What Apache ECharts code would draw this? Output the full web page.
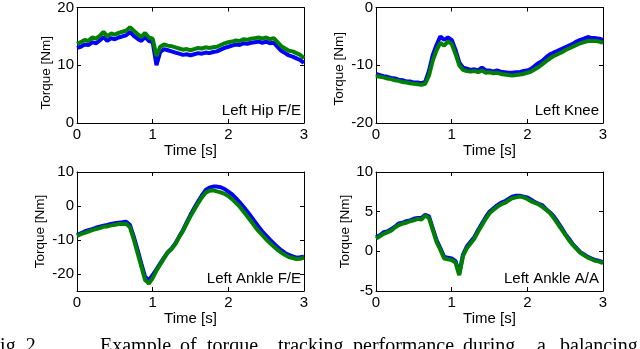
<!DOCTYPE html>
<html lang="en">
<head>
<meta charset="utf-8" />
<title>Torque tracking</title>
<script src="https://cdn.jsdelivr.net/npm/echarts@6/dist/echarts.min.js"></script>
</head>
<body style="margin:0;background:#fff">
<div id="chart" style="width:640px;height:349px"></div>
<script>
// time samples [s]
const times = [0.00,0.05,0.10,0.15,0.20,0.25,0.30,0.35,0.40,0.45,0.50,0.55,0.60,0.65,0.70,0.75,0.80,0.85,0.90,0.95,
  1.00,1.05,1.10,1.15,1.20,1.25,1.30,1.35,1.40,1.45,1.50,1.55,1.60,1.65,1.70,1.75,1.80,1.85,1.90,1.95,
  2.00,2.05,2.10,2.15,2.20,2.25,2.30,2.35,2.40,2.45,2.50,2.55,2.60,2.65,2.70,2.75,2.80,2.85,2.90,2.95,3.00]

// Left Hip F/E
const hipBlue = [13.0,13.2,13.6,13.5,14.0,13.8,14.3,14.9,14.2,14.7,14.5,14.8,15.0,15.2,15.8,15.1,14.6,14.2,14.9,14.2,
  14.0,10.0,12.3,12.8,12.6,12.4,12.2,12.0,11.8,11.9,11.7,11.9,12.1,12.0,12.2,12.1,12.3,12.4,12.7,13.0,
  13.2,13.4,13.6,13.5,13.8,13.7,13.9,14.0,14.1,13.9,14.1,13.8,13.9,13.2,12.5,12.1,11.7,11.5,11.2,10.9,10.4]
const hipGreen = [13.7,14.0,14.4,14.2,14.8,14.6,15.1,15.8,15.0,15.5,15.3,15.6,15.8,16.0,16.6,16.0,15.4,14.9,15.6,14.8,
  14.6,11.6,13.2,13.6,13.4,13.3,13.1,12.9,12.7,12.8,12.6,12.8,13.0,12.9,13.1,13.0,13.1,13.2,13.5,13.8,
  14.0,14.1,14.3,14.2,14.5,14.4,14.6,14.7,14.8,14.6,14.8,14.5,14.7,14.0,13.3,12.9,12.5,12.4,12.1,11.8,11.2]

// Left Knee
const kneeBlue = [-11.5,-11.7,-11.9,-12.0,-12.2,-12.3,-12.5,-12.6,-12.8,-12.8,-13.0,-13.0,-13.1,-12.9,-11.0,-8.2,-6.5,-5.0,-5.6,-5.2,
  -5.6,-7.3,-9.5,-10.4,-10.6,-10.8,-10.7,-10.9,-10.4,-10.9,-10.9,-11.1,-10.9,-11.1,-11.2,-11.3,-11.3,-11.2,-11.2,-11.0,
  -10.9,-10.6,-10.1,-9.6,-9.2,-8.6,-8.1,-7.8,-7.5,-7.2,-6.9,-6.6,-6.3,-5.9,-5.6,-5.4,-5.1,-5.3,-5.3,-5.4,-5.6]
const kneeGreen = [-11.8,-12.0,-12.1,-12.3,-12.4,-12.6,-12.7,-12.9,-13.0,-13.1,-13.2,-13.3,-13.4,-13.2,-11.8,-9.2,-7.4,-6.1,-6.6,-5.9,
  -6.3,-8.0,-10.0,-10.8,-11.0,-11.1,-11.0,-11.2,-10.9,-11.3,-11.2,-11.4,-11.3,-11.5,-11.6,-11.7,-11.8,-11.7,-11.6,-11.5,
  -11.3,-11.1,-10.7,-10.3,-9.8,-9.3,-8.8,-8.4,-8.1,-7.8,-7.4,-7.1,-6.8,-6.5,-6.2,-6.0,-5.8,-5.8,-5.8,-5.9,-6.1]

// Left Ankle F/E
const ankleFEBlue = [-8.5,-8.0,-7.5,-7.1,-6.8,-6.4,-6.1,-5.8,-5.6,-5.3,-5.1,-4.9,-4.8,-4.6,-5.6,-9.0,-12.9,-16.9,-20.8,-21.8,
  -20.3,-18.6,-16.9,-15.2,-13.6,-12.5,-11.0,-9.0,-7.1,-4.8,-2.6,-0.6,1.3,3.1,4.7,5.4,5.7,5.7,5.5,5.0,
  4.2,3.4,2.3,1.1,-0.2,-1.6,-3.1,-4.6,-6.1,-7.5,-8.7,-9.9,-11.0,-12.1,-13.0,-13.8,-14.4,-14.8,-15.2,-15.1,-14.9]
const ankleFEGreen = [-8.8,-8.3,-7.9,-7.5,-7.1,-6.8,-6.5,-6.1,-6.0,-5.7,-5.5,-5.3,-5.3,-5.2,-6.3,-9.8,-13.8,-17.8,-21.8,-22.8,
  -21.2,-19.0,-17.2,-15.4,-13.6,-12.7,-11.2,-9.2,-7.4,-5.2,-3.0,-1.1,0.8,2.5,3.9,4.5,4.6,4.3,4.0,3.6,
  2.9,2.0,0.9,-0.2,-1.6,-3.0,-4.5,-6.0,-7.4,-8.6,-9.8,-10.9,-11.9,-12.9,-13.7,-14.4,-15.0,-15.3,-15.6,-15.5,-15.2]

// Left Ankle A/A
const ankleAABlue = [1.8,2.0,2.4,2.5,2.8,3.1,3.5,3.6,3.8,3.9,4.1,4.2,4.2,4.6,4.4,2.9,1.4,0.4,-0.7,-0.8,
  -0.9,-1.2,-2.8,-0.4,0.6,1.2,1.8,2.7,3.5,4.3,5.0,5.4,5.8,6.1,6.3,6.6,6.9,7.0,7.0,6.9,
  6.8,6.5,6.2,6.0,5.8,5.3,4.9,4.4,3.7,3.0,2.2,1.6,0.9,0.4,-0.1,-0.4,-0.7,-0.9,-1.1,-1.2,-1.4]
const ankleAAGreen = [1.6,1.9,2.2,2.4,2.6,3.0,3.3,3.5,3.6,3.8,3.9,4.1,4.0,4.5,4.2,2.7,1.2,0.2,-0.9,-1.0,
  -1.1,-1.4,-3.0,-0.6,0.4,1.0,1.6,2.5,3.3,4.1,4.8,5.2,5.6,5.9,6.1,6.4,6.7,6.8,6.9,6.8,
  6.6,6.3,6.1,5.9,5.6,5.2,4.8,4.2,3.5,2.8,2.1,1.4,0.8,0.3,-0.2,-0.5,-0.8,-1.0,-1.2,-1.3,-1.5]

const panels = [
  { title: 'Left Hip F/E', blue: hipBlue, green: hipGreen, min: 0, max: 20, interval: 10 },
  { title: 'Left Knee', blue: kneeBlue, green: kneeGreen, min: -20, max: 0, interval: 10 },
  { title: 'Left Ankle F/E', blue: ankleFEBlue, green: ankleFEGreen, min: -25, max: 10 },
  { title: 'Left Ankle A/A', blue: ankleAABlue, green: ankleAAGreen, min: -5, max: 10, interval: 5 },
]

const font = 'Liberation Sans, Arial, sans-serif'
const boxes = [
  { left: 77, top: 6, height: 117, nameGap: 23, pad: [0, 15, 0, 0] },
  { left: 376, top: 6, height: 117, nameGap: 30, pad: [0, 7, 0, 0] },
  { left: 77, top: 172, height: 119, nameGap: 30, pad: 0 },
  { left: 376, top: 172, height: 119, nameGap: 23, pad: 0 },
]

let grid = [], xAxis = [], yAxis = [], series = [], title = []
panels.forEach((p, i) => {
  let b = boxes[i]
  grid.push({ left: b.left, top: b.top, width: 227, height: b.height })
  let line = { show: true, onZero: false, lineStyle: { color: '#000', width: 1 } }
  let tick = { show: true, inside: true, length: 4, lineStyle: { color: '#000' } }
  xAxis.push({
    type: 'value', gridIndex: i, min: 0, max: 3, interval: 1,
    axisLine: line, axisTick: tick, splitLine: { show: false },
    axisLabel: { color: '#000', fontSize: 15, fontFamily: font, margin: 4 },
    name: 'Time [s]', nameLocation: 'middle', nameGap: 17,
    nameTextStyle: { color: '#000', fontSize: 15, fontFamily: font }
  })
  xAxis.push({
    type: 'value', gridIndex: i, position: 'top', min: 0, max: 3, interval: 1,
    axisLine: line, axisTick: tick, axisLabel: { show: false }, splitLine: { show: false }
  })
  let y = {
    type: 'value', gridIndex: i, min: p.min, max: p.max,
    axisLine: line, axisTick: tick, splitLine: { show: false },
    axisLabel: { color: '#000', fontSize: 15, fontFamily: font, margin: 3, showMinLabel: true },
    name: 'Torque [Nm]', nameLocation: 'middle', nameGap: b.nameGap,
    nameTextStyle: { color: '#000', fontSize: 13.5, fontFamily: font, padding: b.pad }
  }
  if (p.interval) y.interval = p.interval
  else { y.splitNumber = 4; y.axisLabel.showMinLabel = false }
  yAxis.push(y)
  let y2 = {
    type: 'value', gridIndex: i, position: 'right', min: p.min, max: p.max,
    axisLine: line, axisTick: tick, axisLabel: { show: false }, splitLine: { show: false }
  }
  if (p.interval) y2.interval = p.interval
  else y2.splitNumber = 4
  yAxis.push(y2)

  series.push({
    type: 'line', xAxisIndex: i * 2, yAxisIndex: i * 2, showSymbol: false, silent: true,
    data: times.map((t, k) => [t, p.blue[k]]),
    lineStyle: { color: '#0000ff', width: 4 }
  })
  series.push({
    type: 'line', xAxisIndex: i * 2, yAxisIndex: i * 2, showSymbol: false, silent: true,
    data: times.map((t, k) => [t, p.green[k]]),
    lineStyle: { color: '#008000', width: 4 }
  })
  title.push({
    text: p.title, padding: 0,
    right: i % 2 == 0 ? 339 : 41, top: b.top + b.height - 20,
    textStyle: { color: '#000', fontSize: 15, fontWeight: 'normal', fontFamily: font }
  })
})

// caption, cut by the bottom edge of the picture
const capWords = [['Fig. 2.', -11], ['Example', 100], ['of', 180], ['torque', 207], ['tracking', 278],
  ['performance', 353], ['during', 463], ['a', 537], ['balancing', 560]]
const graphic = capWords.map(w => ({
  type: 'text', left: w[1], top: 337,
  style: { text: w[0], fontSize: 20, fontFamily: 'Liberation Serif, Times New Roman, serif', fill: '#000' }
}))

let chart = echarts.init(document.getElementById('chart'))
chart.setOption({
  animation: false,
  backgroundColor: '#fff',
  grid, xAxis, yAxis, series, title, graphic
})
</script>
</body>
</html>
